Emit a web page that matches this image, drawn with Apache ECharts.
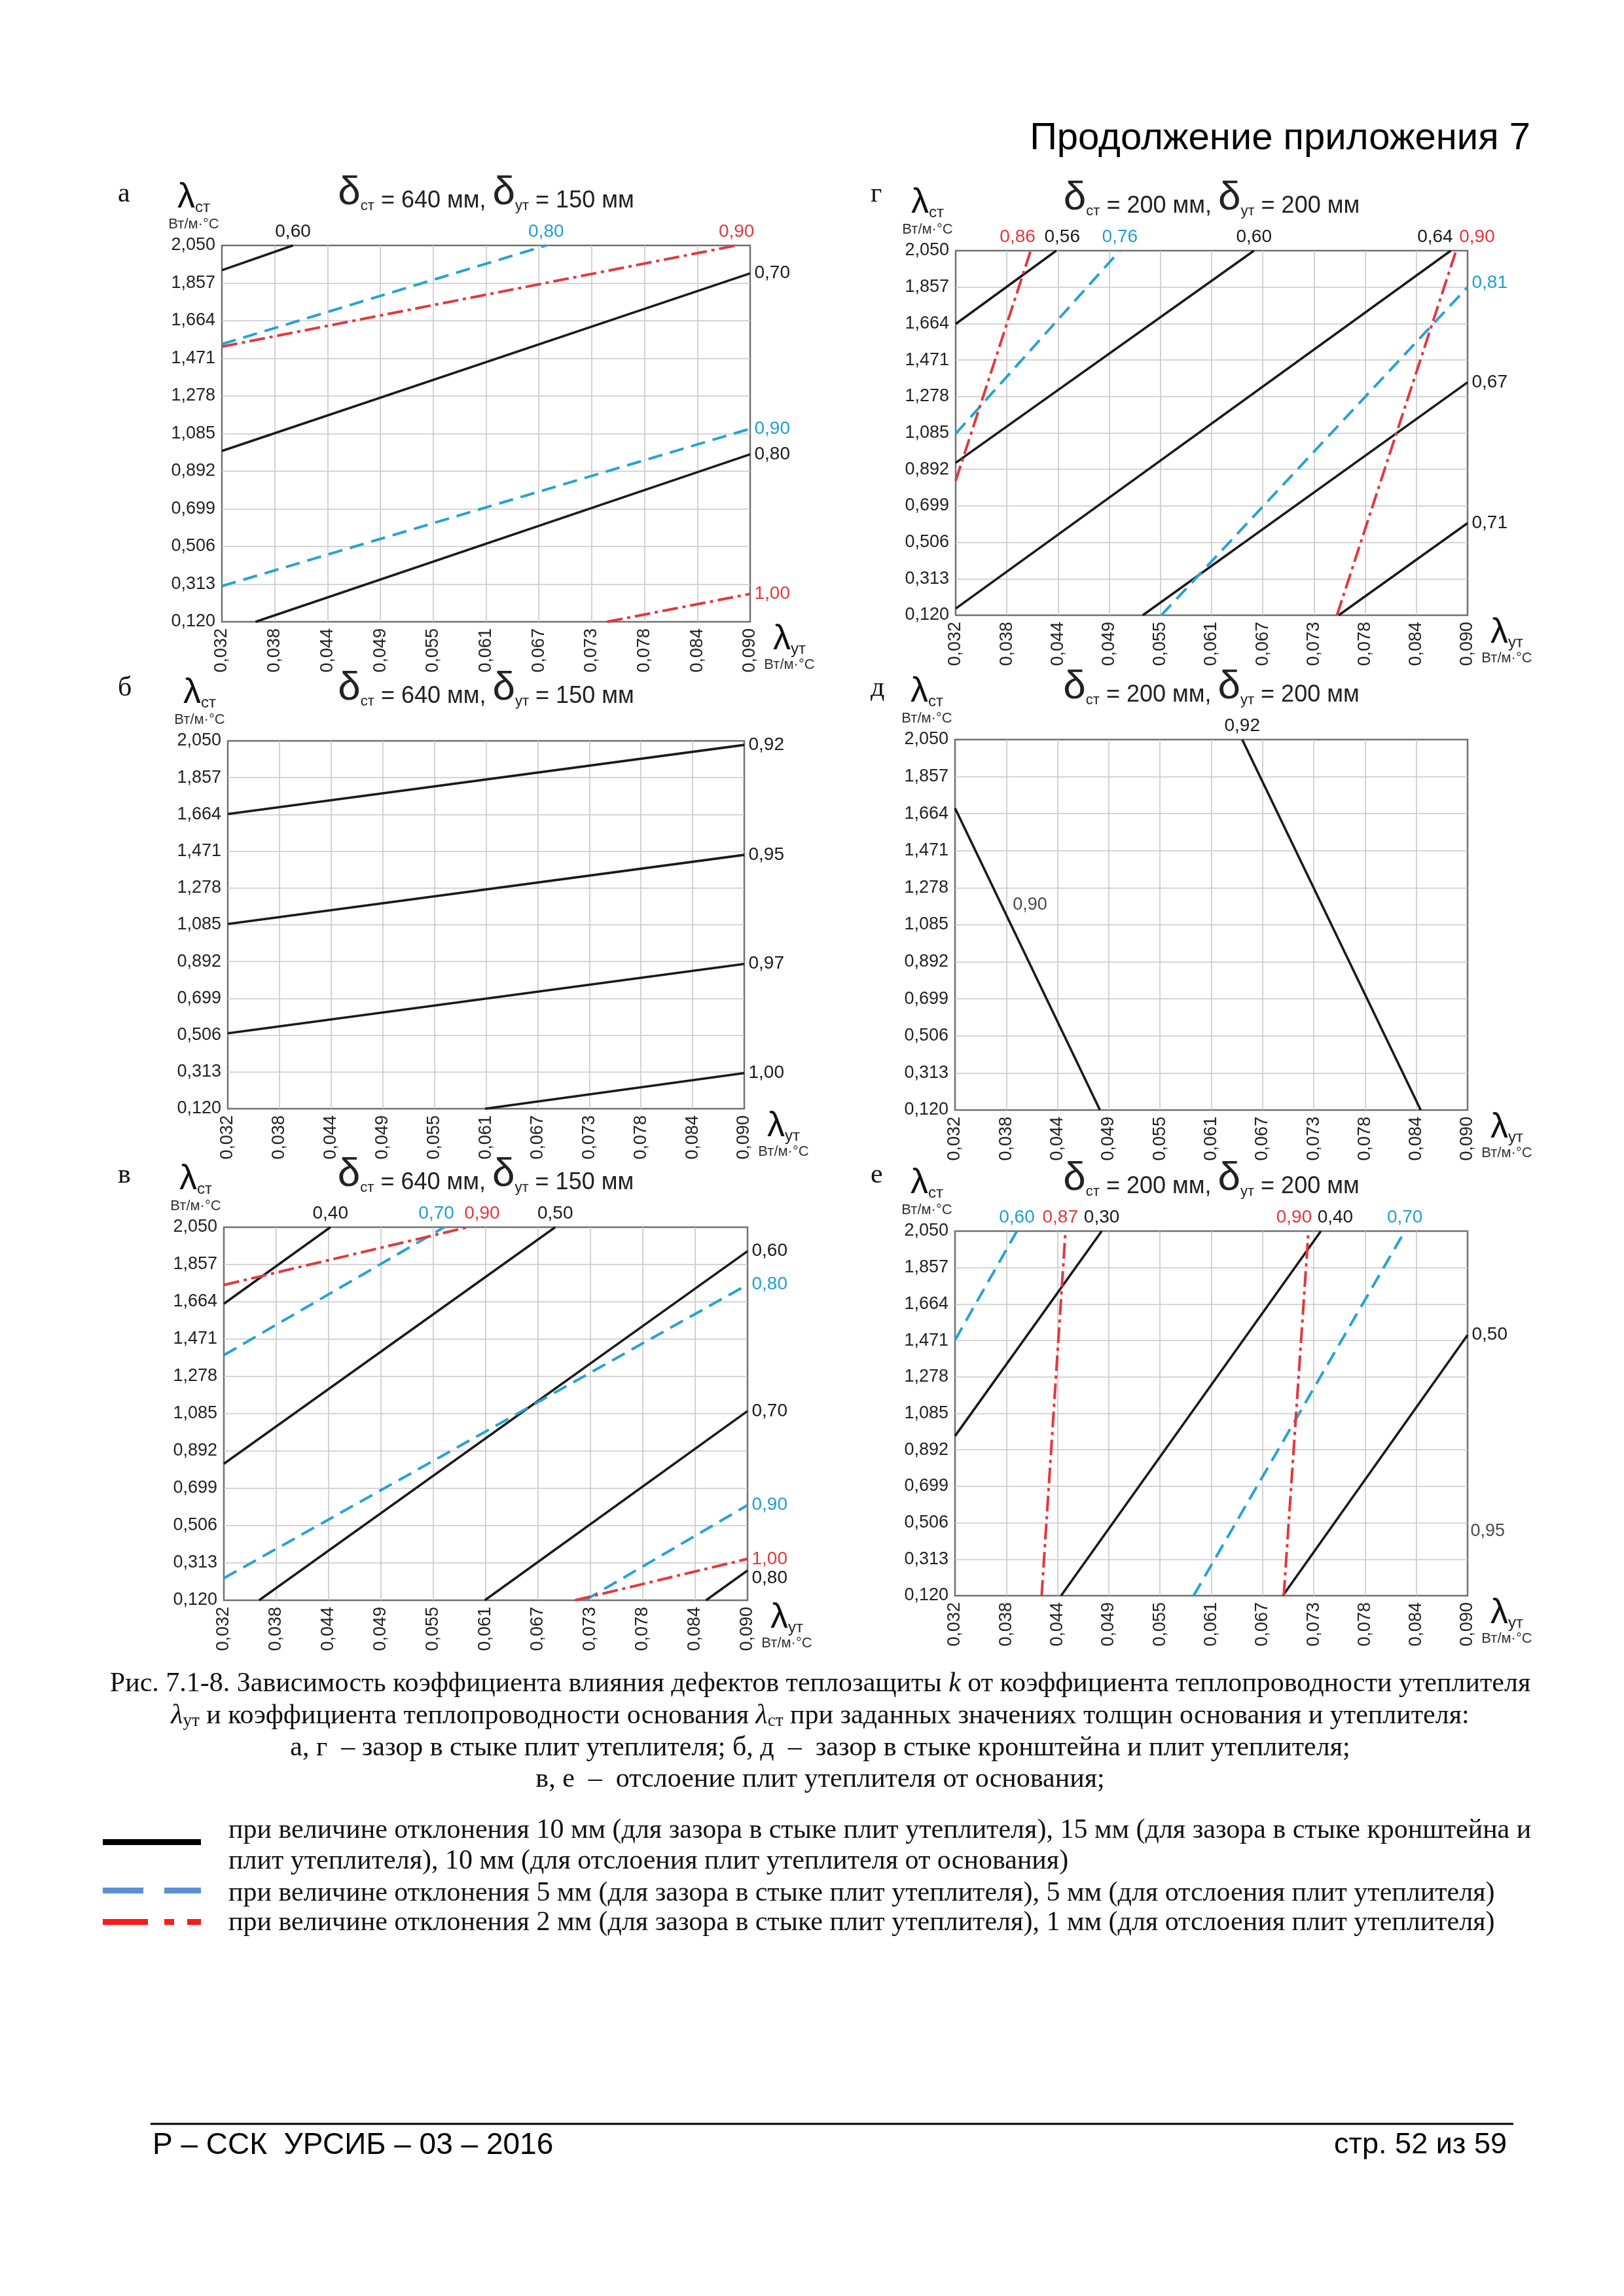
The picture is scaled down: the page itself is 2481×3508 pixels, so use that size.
<!DOCTYPE html>
<html><head><meta charset="utf-8">
<script src="https://cdn.jsdelivr.net/npm/echarts@6/dist/echarts.min.js"></script>
<style>html,body{margin:0;padding:0;background:#fff}#c{width:2481px;height:3508px}</style>
</head><body><div id="c"></div>
<script>
// ---------- axis ticks ----------
const X_TICKS = ['0,032','0,038','0,044','0,049','0,055','0,061','0,067','0,073','0,078','0,084','0,090'];
const Y_TICKS = ['0,120','0,313','0,506','0,699','0,892','1,085','1,278','1,471','1,664','1,857','2,050'];
const X_MIN = 0.032, X_STEP = 0.0058, Y_MIN = 0.120, Y_STEP = 0.193;

// ---------- panel а (δст=640, δут=150) ----------
const A_K060 = [[0.032, 1.923], [0.0398, 2.050]];
const A_B080 = [[0.032, 1.544], [0.0676, 2.050]];
const A_R090 = [[0.032, 1.531], [0.0885, 2.050]];
const A_K070 = [[0.032, 0.996], [0.090, 1.907]];
const A_B090 = [[0.032, 0.303], [0.090, 1.110]];
const A_K080 = [[0.0357, 0.120], [0.090, 0.979]];
const A_R100 = [[0.0743, 0.120], [0.090, 0.263]];
// ---------- panel г (δст=200, δут=200) ----------
const G_R086 = [[0.032, 0.832], [0.0405, 2.050]];
const G_K056 = [[0.032, 1.662], [0.0434, 2.050]];
const G_B076 = [[0.032, 1.081], [0.0506, 2.050]];
const G_K060 = [[0.032, 0.927], [0.0658, 2.050]];
const G_K064 = [[0.032, 0.155], [0.0881, 2.050]];
const G_R090 = [[0.0752, 0.120], [0.0887, 2.050]];
const G_B081 = [[0.0553, 0.120], [0.090, 1.857]];
const G_K067 = [[0.0532, 0.120], [0.090, 1.353]];
const G_K071 = [[0.0754, 0.120], [0.090, 0.608]];
// ---------- panel б ----------
const B_K092 = [[0.032, 1.666], [0.090, 2.029]];
const B_K095 = [[0.032, 1.089], [0.090, 1.452]];
const B_K097 = [[0.032, 0.516], [0.090, 0.880]];
const B_K100 = [[0.0609, 0.120], [0.090, 0.307]];
// ---------- panel д ----------
const D_K090 = [[0.032, 1.693], [0.0484, 0.120]];
const D_K092 = [[0.0847, 0.120], [0.0645, 2.050]];
const D_LBL090 = [[0.0379, 1.126]];
// ---------- panel в ----------
const V_K040 = [[0.032, 1.654], [0.0438, 2.050]];
const V_R090 = [[0.032, 1.751], [0.0590, 2.050]];
const V_B070 = [[0.032, 1.388], [0.0564, 2.050]];
const V_K050 = [[0.032, 0.826], [0.0687, 2.050]];
const V_B080 = [[0.032, 0.234], [0.090, 1.753]];
const V_K060 = [[0.0359, 0.120], [0.090, 1.926]];
const V_K070 = [[0.0609, 0.120], [0.090, 1.099]];
const V_B090 = [[0.0720, 0.120], [0.090, 0.612]];
const V_R100 = [[0.0709, 0.120], [0.090, 0.334]];
const V_K080 = [[0.0854, 0.120], [0.090, 0.274]];
// ---------- panel е ----------
const E_B060 = [[0.032, 1.473], [0.0390, 2.050]];
const E_R087 = [[0.0418, 0.120], [0.0445, 2.050]];
const E_K030 = [[0.032, 0.965], [0.0486, 2.050]];
const E_K040 = [[0.0440, 0.120], [0.0734, 2.050]];
const E_R090 = [[0.0692, 0.120], [0.0720, 2.050]];
const E_B070 = [[0.0590, 0.120], [0.0829, 2.050]];
const E_K050 = [[0.0691, 0.120], [0.090, 1.500]];
const E_LBL095 = [[0.090, 0.462]];

const PANEL_LETTERS = ['а', 'г', 'б', 'д', 'в', 'е'];
const DELTA_CT = ['640', '200', '640', '200', '640', '200'];
const DELTA_YT = ['150', '200', '150', '200', '150', '200'];

// ---------- layout / style ----------
const SANS = '"Liberation Sans", Arial, Helvetica, sans-serif';
const SERIF = '"Liberation Serif", "Times New Roman", serif';
const GRIDS = [
  {left: 339, top: 375, width: 807, height: 575},
  {left: 1460, top: 383, width: 782, height: 557},
  {left: 348, top: 1132, width: 789, height: 562},
  {left: 1459, top: 1130, width: 783, height: 566},
  {left: 342, top: 1875, width: 800, height: 570},
  {left: 1459, top: 1881, width: 783, height: 557}
];
const LETTER_POS = [[180, 297], [1330, 297], [180, 1052], [1330, 1052], [180, 1796], [1330, 1796]];
const STYLE = {
  k: {c: '#1a1a1a', w: 3.6, t: 'solid', lc: '#1a1a1a', z: 3},
  b: {c: '#27a2d3', w: 4, t: [22, 12], lc: '#1f9fd2', z: 4},
  r: {c: '#e3383d', w: 4, t: [24, 7, 5, 7], lc: '#e3383d', z: 5}
};

const PANELS = [
  [ {d: A_K060, k: '0,60', s: 'k', at: 'top'}, {d: A_K070, k: '0,70', s: 'k'}, {d: A_K080, k: '0,80', s: 'k'},
    {d: A_B080, k: '0,80', s: 'b', at: 'top'}, {d: A_B090, k: '0,90', s: 'b'},
    {d: A_R090, k: '0,90', s: 'r', at: 'top'}, {d: A_R100, k: '1,00', s: 'r'} ],
  [ {d: G_K056, k: '0,56', s: 'k', at: 'top', dx: 9}, {d: G_K060, k: '0,60', s: 'k', at: 'top'},
    {d: G_K064, k: '0,64', s: 'k', at: 'top', dx: -24}, {d: G_K067, k: '0,67', s: 'k'}, {d: G_K071, k: '0,71', s: 'k'},
    {d: G_B076, k: '0,76', s: 'b', at: 'top'}, {d: G_B081, k: '0,81', s: 'b', dy: -6},
    {d: G_R086, k: '0,86', s: 'r', at: 'top', dx: -20}, {d: G_R090, k: '0,90', s: 'r', at: 'top', dx: 32} ],
  [ {d: B_K092, k: '0,92', s: 'k'}, {d: B_K095, k: '0,95', s: 'k'}, {d: B_K097, k: '0,97', s: 'k'}, {d: B_K100, k: '1,00', s: 'k'} ],
  [ {d: D_K090, s: 'k'}, {d: D_K092, k: '0,92', s: 'k', at: 'top'} ],
  [ {d: V_K040, k: '0,40', s: 'k', at: 'top'}, {d: V_K050, k: '0,50', s: 'k', at: 'top'}, {d: V_K060, k: '0,60', s: 'k'},
    {d: V_K070, k: '0,70', s: 'k'}, {d: V_K080, k: '0,80', s: 'k', dy: 12},
    {d: V_B070, k: '0,70', s: 'b', at: 'top', dx: -12}, {d: V_B080, k: '0,80', s: 'b'}, {d: V_B090, k: '0,90', s: 'b'},
    {d: V_R090, k: '0,90', s: 'r', at: 'top', dx: 22}, {d: V_R100, k: '1,00', s: 'r'} ],
  [ {d: E_K030, k: '0,30', s: 'k', at: 'top'}, {d: E_K040, k: '0,40', s: 'k', at: 'top', dx: 22}, {d: E_K050, k: '0,50', s: 'k'},
    {d: E_B060, k: '0,60', s: 'b', at: 'top'}, {d: E_B070, k: '0,70', s: 'b', at: 'top'},
    {d: E_R087, k: '0,87', s: 'r', at: 'top', dx: -8}, {d: E_R090, k: '0,90', s: 'r', at: 'top', dx: -22} ]
];
const LABEL_ONLY = [
  {gi: 3, d: D_LBL090, k: '0,90', pos: 'right', off: [4, -18]},
  {gi: 5, d: E_LBL095, k: '0,95', pos: 'right', off: [0, 0]}
];

const toGrid = p => [(p[0] - X_MIN) / X_STEP, (p[1] - Y_MIN) / Y_STEP];

const series = [];
PANELS.forEach((lines, gi) => {
  lines.forEach(L => {
    const st = STYLE[L.s];
    const pts = L.d.map(toGrid);
    const n = pts.length;
    const data = pts.map((p, i) => {
      if (i !== n - 1 || !L.k) return {value: p};
      return {value: p, label: {show: true, formatter: L.k, position: L.at === 'top' ? 'top' : 'right',
        distance: 6, offset: [L.dx || 0, L.dy || 0], color: st.lc, fontSize: 28, fontFamily: SANS}};
    });
    series.push({type: 'line', xAxisIndex: gi, yAxisIndex: gi, data, symbol: 'circle', symbolSize: 1,
      showSymbol: true, itemStyle: {color: 'rgba(0,0,0,0)'}, clip: false, silent: true, animation: false,
      z: st.z, label: {show: false}, emphasis: {disabled: true},
      lineStyle: {color: st.c, width: st.w, type: st.t}});
  });
});
LABEL_ONLY.forEach(L => {
  series.push({type: 'scatter', xAxisIndex: L.gi, yAxisIndex: L.gi, data: L.d.map(toGrid), symbolSize: 1,
    itemStyle: {color: 'rgba(0,0,0,0)'}, clip: false, silent: true, animation: false, z: 6,
    label: {show: true, formatter: L.k, position: L.pos, distance: 4, offset: L.off, color: '#1a1a1a', fontSize: 27, fontFamily: SANS}});
});

const xAxis = GRIDS.map((g, i) => ({type: 'value', gridIndex: i, min: 0, max: 10, interval: 1,
  axisLine: {show: false}, axisTick: {show: false},
  splitLine: {show: true, showMinLine: false, showMaxLine: false, lineStyle: {color: '#c8c8c8', width: 1.6}},
  axisLabel: {rotate: 90, margin: 10, fontSize: 27, color: '#222', fontFamily: SANS, formatter: v => X_TICKS[Math.round(v)]}}));
const yAxis = GRIDS.map((g, i) => ({type: 'value', gridIndex: i, min: 0, max: 10, interval: 1,
  axisLine: {show: false}, axisTick: {show: false},
  splitLine: {show: true, showMinLine: false, showMaxLine: false, lineStyle: {color: '#c8c8c8', width: 1.6}},
  axisLabel: {margin: 10, fontSize: 27, color: '#222', fontFamily: SANS, formatter: v => Y_TICKS[Math.round(v)]}}));
const grid = GRIDS.map(g => Object.assign({show: true, borderColor: '#707070', borderWidth: 2.5, backgroundColor: 'transparent'}, g));

// ---------- texts ----------
function T(x, y, text, o) {
  const style = Object.assign({text, fill: '#111', fontSize: 42, fontFamily: SERIF, textAlign: 'left', textVerticalAlign: 'middle'}, o || {});
  style.align = style.textAlign; style.verticalAlign = style.textVerticalAlign;
  return {type: 'text', x, y, silent: true, style};
}
function tok(fs, fam, extra) {
  return Object.assign({fontSize: fs, fontFamily: fam, fill: '#222', color: '#222', verticalAlign: 'bottom', lineHeight: Math.round(2 * (10 + 0.33 * fs))}, extra || {});
}
const graphic = [];
GRIDS.forEach((g, i) => {
  const cx = g.left + g.width / 2, right = g.left + g.width, bottom = g.top + g.height;
  graphic.push(T(LETTER_POS[i][0], LETTER_POS[i][1], PANEL_LETTERS[i], {fontSize: 42, textAlign: 'left'}));
  graphic.push(T(cx, g.top - 80, '{d|δ}{s|ст}{t| = ' + DELTA_CT[i] + ' мм, }{d|δ}{s|ут}{t| = ' + DELTA_YT[i] + ' мм}',
    {textAlign: 'center', rich: {d: tok(62, SANS), s: tok(22, SANS), t: tok(36, SANS)}}));
  graphic.push(T(g.left - 43, g.top - 74, '{l|λ}{s|ст}', {textAlign: 'center', rich: {l: tok(54, SANS, {fill: '#111'}), s: tok(24, SANS, {lineHeight: 38})}}));
  graphic.push(T(g.left - 43, g.top - 32, 'Вт/м·°С', {textAlign: 'center', fontSize: 22, fontFamily: SANS, fill: '#333'}));
  graphic.push(T(right + 60, bottom + 26, '{l|λ}{s|ут}', {textAlign: 'center', rich: {l: tok(54, SANS, {fill: '#111'}), s: tok(24, SANS, {lineHeight: 38})}}));
  graphic.push(T(right + 60, bottom + 66, 'Вт/м·°С', {textAlign: 'center', fontSize: 22, fontFamily: SANS, fill: '#333'}));
});
// header
graphic.push(T(2338, 212, 'Продолжение приложения 7', {textAlign: 'right', fontSize: 58, fontFamily: SANS, fill: '#000'}));
// caption
const CX = 1253;
const capRich = {n: tok(42, SERIF, {fill: '#111', lineHeight: 42}), i: tok(42, SERIF, {fill: '#111', fontStyle: 'italic', lineHeight: 42}),
  s: tok(27, SERIF, {fill: '#111', lineHeight: 14})};
graphic.push(T(CX, 2573, '{n|Рис. 7.1-8. Зависимость коэффициента влияния дефектов теплозащиты }{i|k}{n| от коэффициента теплопроводности утеплителя}', {textAlign: 'center', rich: capRich}));
graphic.push(T(CX, 2622, '{i|λ}{s|ут}{n| и коэффициента теплопроводности основания }{i|λ}{s|ст}{n| при заданных значениях толщин основания и утеплителя:}', {textAlign: 'center', rich: capRich}));
graphic.push(T(CX, 2671, 'а, г  – зазор в стыке плит утеплителя; б, д  –  зазор в стыке кронштейна и плит утеплителя;', {textAlign: 'center'}));
graphic.push(T(CX, 2719, 'в, е  –  отслоение плит утеплителя от основания;', {textAlign: 'center'}));
// legend
graphic.push({type: 'rect', silent: true, shape: {x: 157, y: 2810, width: 150, height: 9}, style: {fill: '#000'}});
graphic.push({type: 'rect', silent: true, shape: {x: 157, y: 2884, width: 62, height: 9}, style: {fill: '#5b8fd8'}});
graphic.push({type: 'rect', silent: true, shape: {x: 251, y: 2884, width: 56, height: 9}, style: {fill: '#5b8fd8'}});
graphic.push({type: 'rect', silent: true, shape: {x: 157, y: 2932, width: 69, height: 9}, style: {fill: '#ff1a1a'}});
graphic.push({type: 'rect', silent: true, shape: {x: 251, y: 2932, width: 15, height: 9}, style: {fill: '#ff1a1a'}});
graphic.push({type: 'rect', silent: true, shape: {x: 286, y: 2932, width: 21, height: 9}, style: {fill: '#ff1a1a'}});
graphic.push(T(349, 2797, 'при величине отклонения 10 мм (для зазора в стыке плит утеплителя), 15 мм (для зазора в стыке кронштейна и'));
graphic.push(T(349, 2844, 'плит утеплителя), 10 мм (для отслоения плит утеплителя от основания)'));
graphic.push(T(349, 2893, 'при величине отклонения 5 мм (для зазора в стыке плит утеплителя), 5 мм (для отслоения плит утеплителя)'));
graphic.push(T(349, 2938, 'при величине отклонения 2 мм (для зазора в стыке плит утеплителя), 1 мм (для отслоения плит утеплителя)'));
// footer
graphic.push({type: 'line', silent: true, shape: {x1: 230, y1: 3245, x2: 2312, y2: 3245}, style: {stroke: '#000', lineWidth: 3}});
graphic.push(T(233, 3278, 'Р – ССК  УРСИБ – 03 – 2016', {fontSize: 46, fontFamily: SANS, fill: '#000'}));
graphic.push(T(2302, 3278, 'стр. 52 из 59', {textAlign: 'right', fontSize: 45, fontFamily: SANS, fill: '#000'}));

const chart = echarts.init(document.getElementById('c'), null, {renderer: 'canvas'});
chart.setOption({backgroundColor: '#fff', animation: false, grid, xAxis, yAxis, series, graphic});
</script></body></html>
